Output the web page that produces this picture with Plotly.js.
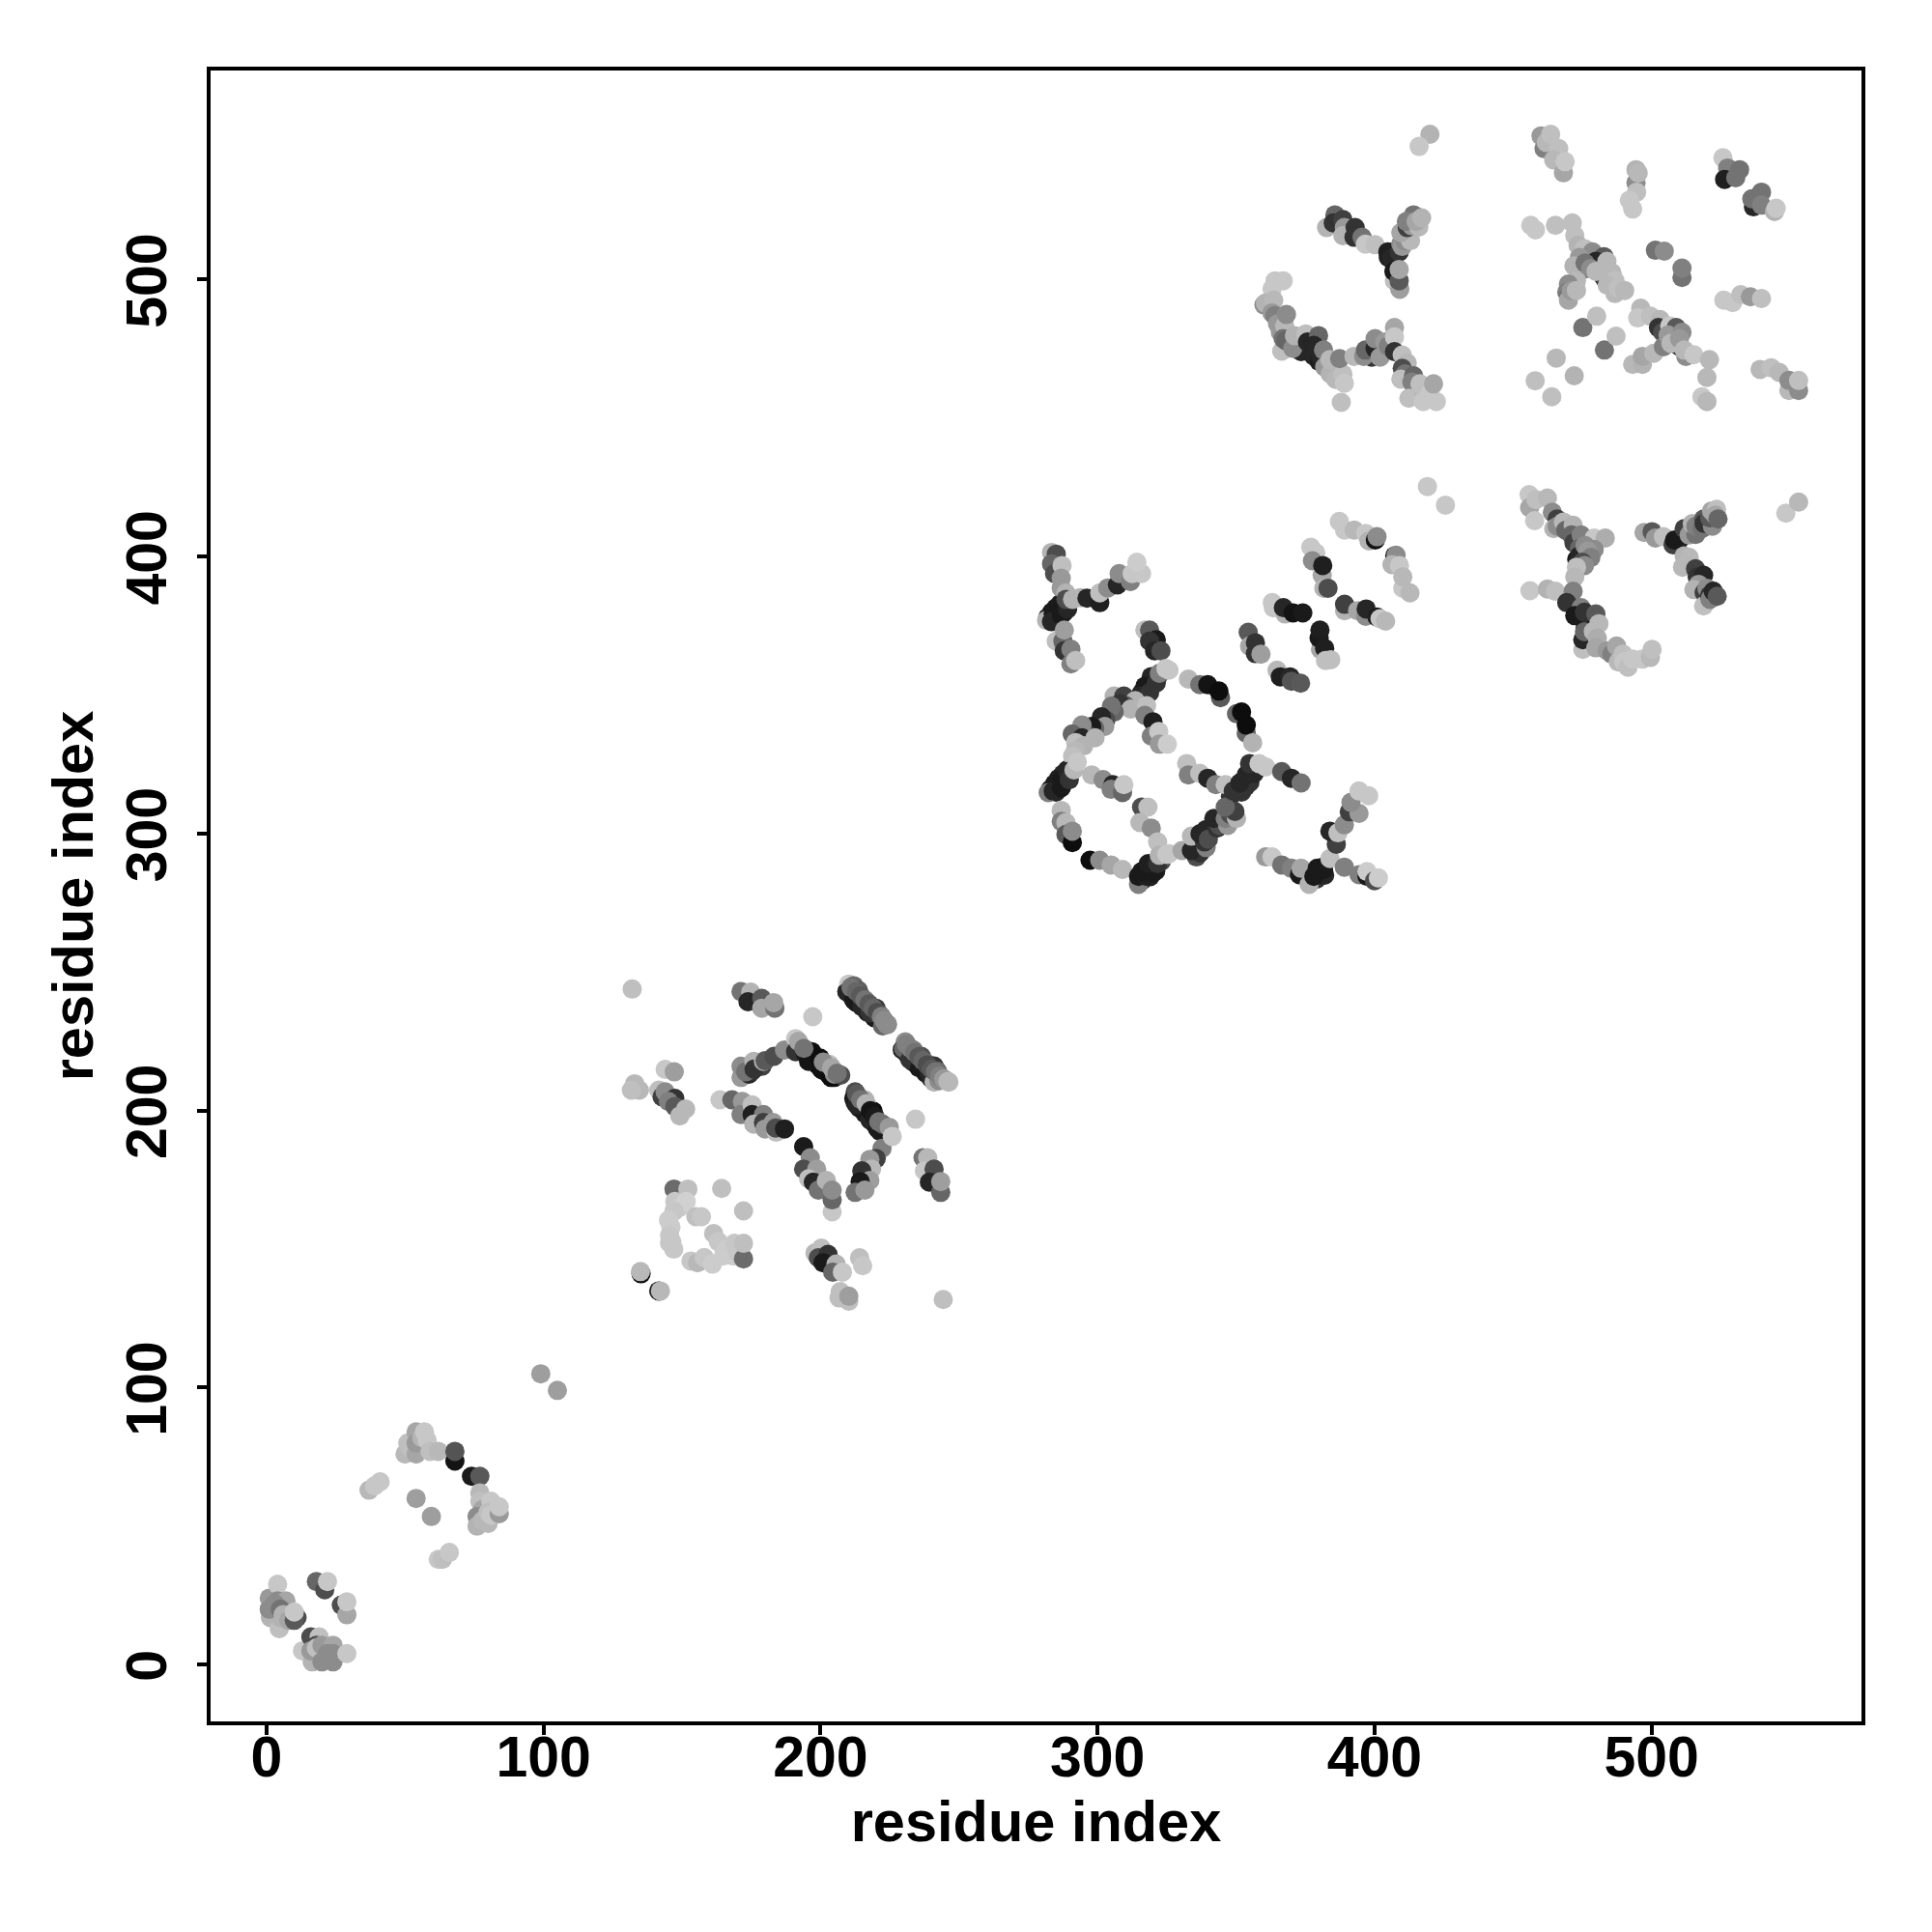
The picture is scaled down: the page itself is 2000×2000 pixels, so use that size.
<!DOCTYPE html>
<html><head><meta charset="utf-8">
<script src="https://cdn.plot.ly/plotly-3.0.1.min.js"></script>
<style>html,body{margin:0;padding:0;background:#fff}</style></head>
<body><div id="chart" style="width:2000px;height:2000px"></div>
<script>
// each row: residue x, residue y, grey shade (0 black .. 1 white)
const denseUnder = [[209.5,243,.1],[211.5,241,.1],[213,239,.1],[215,237.5,.1],[217,235.5,.1],[219.5,233.5,.1],[229.5,222,.15],[231.5,220,.15],[233.5,217.5,.1],[235.5,215.5,.1],[238,213.5,.1],[240,211.5,.15],
[193,222,.08],[195,220,.05],[197,218.5,.05],[199,216.5,.05],[201,214.5,.05],[203,213,.1],[205,212,.1],
[212.5,203,.1],[214,201,.1],[216,199,.1],[218,196.5,.1],[220,194.5,.1],[221.5,192.5,.1],
[314.5,349,.3],[316,348.5,.12],[316,351,.15],[317.5,352.5,.12],[319,354,.12],[320.5,355.5,.15],[322,357,.2],
[283,316,.12],[284.5,318,.1],[286,320,.12],[287.5,321.5,.15],[289,323,.15],[285,315,.15],[287,317,.12],[288.5,319,.15],
[316,283,.15],[317,285,.1],[318.5,286.5,.1],[320,288,.12],[321.5,289.5,.15],[319,284.5,.12],[321,286.5,.12],[323,290,.3],
[348,313.5,.2],[349.5,316,.15],[351,317.5,.12],[352.5,319,.15],[354,320.5,.15],[352,315,.2],[353.5,317,.2],[355,318.5,.2],[356,322.5,.2],
[377,283,.1],[378.5,285,.1],[380,286.5,.1],[381.5,288,.12],[376,285,.1],[379,283.5,.2],[382,285,.15],
[282,378,.12],[283.5,380,.1],[285,381.5,.1],[286.5,383,.12],[284.5,377,.1],[286,379,.1],[288,380,.12],
[405,508,.12],[407,510,.15],[372,475,.2],[373.5,474,.15],[376,474,.15],[378,472.5,.15],[380,470.5,.12],[399,472,.2],[401,474,.12],[403,476,.2],
[473,399,.1],[471,383,.25],[473,380,.15],[476,377,.3],[476,374,.12],[477,371,.15],[510,406,.12],[512,408,.2]];
const domainA = [[1,24,.6],[1.4,17,.7],[1,20,.65],[4,29,.78],[4,23,.55],[4.6,13,.75],[7,23,.65],[8,19,.6],[5,17,.7],[1,20,.55],[3,22,.55],[5,20,.45],[6,18,.7],[8,16,.65],[11,17,.3],[10,16,.35],[10,19,.78],
[18,30,.4],[21,27,.3],[22,30,.78],[27,21.5,.3],[29,18,.65],[29,22.7,.78],
[13,5,.78],[16,10,.3],[19,10,.75],[18,7,.3],[17,3,.6],[16.5,1,.7],[16,5,.6],[18,6,.75],[20,1,.55],[24,1,.55],[20,7,.6],[24,7,.65],[22,4,.55],[24,4,.55],[29,4,.78]];
const domainB = [[50,76,.72],[51,80,.75],[52,78,.75],[54,76,.65],[54,84,.65],[54,80,.6],[56,82,.7],[57,84,.78],[58,81,.78],[59,77,.75],[62,77,.72],[68,73.5,.08],[68,77,.33],[74,68,.1],[77,68,.35],
[77,62,.72],[77,59,.75],[78,56,.65],[81,59,.78],[76,53.5,.55],[76,50,.7],[78,52,.72],[80,51,.72],[80,55,.75],[81,54,.78],[84,54.5,.6],[84,57,.78],
[37,63,.72],[39,64.5,.78],[41,66,.78],[54,60,.62],[59.5,53.5,.62],[62,38,.78],[63.5,38,.75],[66,40.5,.78],[99,105,.62],[105,99,.62]];
const domainC1 = [[132,243.9,.75],[171.3,243,.45],[174.8,242.8,.7],[173.8,239.3,.15],[178.8,240.5,.35],[178.8,237,.65],[183.5,237,.45],[183.1,239,.65],
[210.2,245.7,.78],[212,245.1,.4],[209.6,242.8,.15],[212.5,241.7,.3],[213.7,243.4,.35],[212,239.9,.1],[216.6,239.3,.4],[214.9,237.6,.15],[220,237,.2],[217.8,235.3,.2],[221.3,234.7,.45],[222.4,230.6,.4],[223,232.4,.5],[224.2,231.2,.55],
[230.6,224.8,.55],[230,222.5,.4],[233.5,221.9,.5],[232.3,218.4,.2],[236.4,219.6,.3],[238.1,217.2,.45],[235.8,215.5,.1],[241,216.1,.2],[239.3,213.2,.15],[242.2,214.3,.4],[241,210.3,.7],[242.8,210.8,.55],[246.3,210.3,.72],
[132.9,209.7,.72],[134.6,207.4,.72],[131.7,207.4,.75],[143.9,214.9,.78],[147.2,214,.62],[141.6,207.4,.75],[142.8,205,.25],[143.9,206.8,.55],[147.4,204.4,.2],[145.1,203.3,.5],[147.4,201.5,.35],[149.2,198.1,.72],[151.3,200.6,.72]];
const domainC2 = [[171.3,212,.6],[171.3,216,.55],[174.2,213.2,.15],[175.3,214.3,.2],[173,214,.45],[175.9,217.8,.7],[178.8,216,.25],[176,215,.2],[179.4,217.8,.7],[180,218,.35],[183.2,219.6,.3],[187,221.9,.55],
[191,226,.78],[192.8,223,.6],[191,221.3,.2],[194.5,220.7,.1],[196.8,221.3,.05],[195.7,217.8,.08],[199.8,219,.05],[200.3,214.9,.07],[203.2,216.7,.75],[203.8,212,.05],[205,213.2,.55],[207.3,212.8,.3],
[163.7,203.9,.78],[168,203.9,.4],[171.8,203.3,.6],[171.3,198.6,.5],[175.3,202.1,.75],[175.3,198.6,.12],[179.4,198.6,.5],[175.9,195.1,.7],[179.4,195.7,.25],[182.9,195.7,.6],[180,193.4,.6],[184,192.2,.75],[183.8,193.7,.3],[187,193.4,.12],
[212.5,206.8,.3],[212,204.4,.1],[216,203.9,.7],[213.1,202.1,.15],[219,199.8,.05],[217.8,196.9,.15],[220.7,193.4,.1],[222.4,195.1,.4],
[222.2,186.4,.5],[220.1,182.7,.25],[217.8,182.4,.6],[218.4,178.9,.72],[214.9,178.3,.2],[217.8,174.8,.62],[214.3,174.4,.1],[212.5,170.5,.45],[216,171.3,.6],
[193.9,187,.1],[196.3,183,.55],[193.9,178.9,.3],[198.6,178.9,.62],[195.7,175.4,.75],[197.4,174.2,.15],[199.2,171.3,.45],[202.1,174.8,.7],[204.2,163.5,.78],[204.2,167.8,.4],[204.2,171.3,.55],
[237,183,.45],[238.7,183,.72],[237.5,178.3,.78],[241,178.9,.3],[239.3,174.2,.15],[243.4,170.5,.4],[243.4,174.4,.62],[197.2,233.9,.78],[234.3,196.9,.78],[244.3,131.8,.75]];
const domainC3 = [[147.1,171.7,.42],[152.1,171.7,.75],[164.3,171.9,.75],[172.2,163.8,.75],[147.4,167.2,.78],[149,165,.8],[151.5,167.2,.82],[147.1,163.7,.78],[145.1,160.5,.8],[146,158,.8],[155,161.7,.75],[157,161.7,.78],[145.5,155,.78],[146.3,152.7,.78],[145.5,152.2,.78],[147,150,.78],[161.4,155.6,.75],[163.1,152.7,.78],[153.2,145.7,.78],[155.6,145.1,.72],[158,147,.78],[161,144.6,.8],[164.9,147.5,.8],[166,150,.8],[168.4,147.5,.8],[170,149,.78],[168.9,152.1,.78],[172.2,146.5,.42],[172.2,152.1,.75],
[135.2,141.1,.05],[135,141.9,.72],[141.6,134.9,.1],[142.2,134.9,.72],
[198,148.6,.72],[200.3,150.4,.75],[199.2,146.9,.3],[202.7,148.1,.2],[200.9,145.1,.1],[205.6,144.6,.7],[204.4,141.7,.4],[207.9,141.7,.78],[214.1,146.9,.75],[215.2,144,.78],[207.1,134.7,.75],[206.7,132.4,.75],[210.2,131.2,.75],[210.2,133,.62]];
const domainD1 = [[283.4,401.5,.7],[285.1,400.9,.3],[283.4,397.4,.4],[284.5,393.9,.3],[287.2,396.8,.75],[286.9,392.2,.6],[286.9,388.7,.6],[288.6,386.9,.7],
[281.6,377,.7],[284,379.4,.1],[283.4,376.5,.15],[286.3,381.7,.1],[286.9,378.8,.1],[289.2,381.1,.15],[288.6,384.6,.3],[291,384.6,.7],[293.8,385.2,.7],[296.2,385,.15],[300.8,383.4,.12],[300.8,386.9,.75],[303.7,388.7,.55],[307.2,389.8,.15],[307.8,393.9,.55],[311.9,391,.5],[312.5,393.9,.78],[315.9,393.9,.78],[314.2,398,.8],
[285.1,369.5,.75],[287.5,369.5,.4],[288,373.5,.62],[288,366,.2],[290.4,366.6,.5],[290.4,361.3,.5],[292.1,362.5,.75],
[317.1,373.5,.75],[318.8,373.5,.35],[321.2,370,.1],[318.8,369.5,.2],[320.6,366,.15],[322.9,366,.3],
[319.4,356.7,.15],[317.1,353.2,.1],[321.2,354.4,.2],[315.3,349.7,.15],[318.8,350.9,.2],[322.3,357.9,.5],[324.7,359.6,.78],[325.8,359,.78],
[306,349.7,.7],[309.5,349.7,.25],[313.6,348,.7],[310.1,346.2,.35],[308,347,.2],[312,345,.7],[306,343.9,.4],[305,346,.45],[303,341,.3],[301.4,342.2,.15],[302.6,338.7,.6],[299,338,.4],[297.9,338.7,.1],[296,336,.25],[294.4,339.2,.55],[290.9,336,.4],[294.4,334.6,.15],[299.1,334.6,.7],[292.1,332.9,.75],[295,331.7,.7],[292,330,.72],[291,328,.75],
[317.7,346.2,.75],[317.1,342.7,.5],[320,340.4,.12],[319.4,335.2,.5],[322.1,336.9,.78],[322.3,332.3,.6],[325.2,332.3,.8],
[332.8,355.8,.72],[336.9,353.8,.45],[339.8,353.8,.08],[344.4,349.1,.35],[343.8,351.5,.05],[350.2,343.3,.4],[352,343.9,.05],[353.7,336.3,.4],[353.7,339.2,.05],[356,332.8,.7]];
const domainD2 = [[282.2,314.8,.5],[284,315.4,.15],[286.9,316.6,.1],[286.9,319.5,.1],[289.2,322.4,.15],[289.8,319.5,.2],[291.5,323,.72],[292.7,325.9,.78],
[297.9,321.2,.72],[302,319.5,.55],[305.5,317.7,.15],[304.9,316,.5],[309,314.8,.4],[309.5,317.7,.78],
[286.9,308.4,.72],[286.9,304.4,.5],[288.6,304,.72],[288.6,299.7,.35],[290.9,296.8,.05],[290.9,300.9,.55],[297.3,290.4,.05],[300.8,290.4,.55],[304.9,288.7,.65],[309,287.1,.72],
[315.9,309.6,.3],[318.2,309.6,.75],[315.3,304,.72],[319.4,302,.55],[321.7,297,.75],
[314.8,281.7,.5],[314.8,284.6,.1],[317.7,284.6,.12],[315.9,286.3,.1],[320,286,.1],[318.3,289.2,.12],[321.7,289.2,.2],[322.3,292.2,.7],[325.8,292.8,.78],[325,292.5,.78],
[335.7,291.6,.3],[337,293,.2],[330.5,293.9,.65],[333.9,293.9,.15],[339.2,295,.5],[333.9,299.1,.72],[339.2,301.5,.15],[338.6,297,.2],[337,300,.15],[340,298,.3],[343.2,302,.2],[344,303,.3],[342,305.5,.15],[347,303,.6],[346.1,305.5,.5],[348,307,.3],[350.2,305.5,.7],[349.6,308,.25],[346.1,309.6,.4],
[332.2,325.3,.75],[332.8,321.2,.5],[336.9,321.8,.75],[339.8,320,.15],[342.7,317.7,.5],[346.1,317.7,.75],[349,315.4,.2],[351.4,318.3,.15],[353.7,321.2,.15],[356.6,321.8,.15],[354.9,325.3,.2],[358.3,325.3,.78],[360.7,324.1,.78],[366.5,322.4,.35],[370,320,.15],[373.5,318.3,.45],
[360.7,291.6,.6],[363,291.6,.78],[366.5,288.7,.45],[370,287.5,.5],[372.9,285.2,.1],[373.5,287.5,.65],[376.4,281.7,.7],[378.1,284.6,.1],[379.3,287.5,.1],[381.6,287,.1],
[383.9,291,.75],[386.2,296.2,.25],[383.9,300.9,.15],[386.8,300.3,.75],[389.1,303.2,.55],[390.9,307.9,.25],[394.4,307.3,.6],[391.5,311.3,.55],[394.4,315.4,.78],[397.9,313.7,.78],
[389.1,287.9,.5],[394.4,285.2,.5],[397.3,284.6,.1],[397.3,286.3,.8],[400,283,.3],[401.4,284,.8]];
const domainE = [[419.1,425.3,.78],[425.6,418.6,.78],[387.3,412.7,.78],[389.2,409.6,.78],[392.7,409.6,.72],[396.8,408.4,.78],[398,405.7,.7],[400.3,406,.08],[400.9,407.2,.55],
[407.3,400.3,.15],[407.8,400.5,.55],[406.3,397.1,.7],[409,396.8,.78],[410.2,388.6,.78],[410.2,392.7,.72],[412.8,386.9,.72],
[377,403.4,.78],[378.8,401.4,.78],[377.6,398.5,.55],[381.1,393.3,.65],[381.3,396.8,.12],[381.7,388.6,.7],[383.2,388.6,.3],
[363.1,383.4,.78],[363.5,381.5,.78],[367.7,379.3,.7],[367.1,381.6,.15],[370.6,379.7,.08],[374.1,379.7,.1],
[389.2,380.5,.7],[389.2,382.8,.25],[393.9,380.5,.65],[396.8,378.5,.55],[397,381.1,.15],[400.9,378.2,.12],[402,377.6,.78],[404,376.7,.72],
[380.5,366.5,.65],[380,370.6,.1],[380.3,373.5,.12],[382,366.9,.12],[382.3,362.5,.75],[384.2,362.8,.75],
[354.4,372.7,.35],[354.9,367.7,.65],[357,368.9,.2],[357,365,.2],[359,364.8,.62],
[364.8,359,.72],[366,356.6,.12],[369.5,356.6,.15],[370,355,.33],[373.3,354.3,.35]];
const domainF1 = [[420,552.5,.7],[416.1,548.1,.78],[382.7,518.8,.7],[385.7,523.4,.4],[385.1,520.5,.2],[388.6,521.7,.25],[389.1,518.8,.6],[388.6,515.9,.7],[393,518.8,.2],[392.6,515.3,.2],[395.5,515.3,.45],[396.7,512.8,.78],[400.2,512.6,.75],
[404.8,510,.12],[406,507.7,.15],[408.9,510,.2],[409.5,513,.55],[410,512,.6],[411,514,.55],[412,516,.6],[413,514.1,.72],[409.5,517,.65],[411.8,518.8,.25],[414.1,523.4,.45],[413.5,519.4,.6],[411.5,521,.5],[416,519,.72],[415,521,.65],[417,522.3,.7],
[407.2,499.6,.75],[409.1,496.5,.62],[407,503,.1],[408.9,499.6,.35],[408.9,503.7,.65],
[364.1,499.6,.78],[367,499.6,.78],[363,496.7,.78],[360.1,490.9,.55],[360.6,491.5,.7],[363.6,492.6,.72],[363,488,.6],[364,487,.5],[365,484,.6],[366,481,.6],[367.6,483.3,.72],[368.2,487.4,.55],[366.5,474.2,.75],[367,478.7,.45],[368,478,.4],[370.5,475.2,.55],[371.1,479.8,.7],[375.2,480.4,.75],[375.8,477.5,.15],[379.8,479.8,.4],[378.1,476.3,.15],[380.4,472.3,.15],[381.6,474.6,.5],[388,455.7,.75],[382,468.5,.6],[384,466,.7],[386,464,.72],[388.6,465.9,.75],[389.1,462.6,.78],[383.9,471.1,.72],[387.4,471.5,.5],
[392.6,472.3,.72],[396.1,472.3,.55],[396.7,474.6,.4],[400.2,475.2,.15],[400.2,478.7,.55],[402,472,.6],[403.7,477.5,.6],[405,476,.5],[407.2,482.7,.65],[407.2,479.3,.78],
[407.2,474,.2],[410,472.8,.75],[411.8,469.9,.72],[410,468,.3],[411,466,.45],[412,464,.2],[409.5,464.1,.75],[414.1,465.3,.4],[413.5,463,.5],[415,461,.5],[412.4,457.2,.75],[418,459,.7],[417.6,456,.78],[416.4,462.4,.75],[419.9,458.9,.78],[422.3,456,.78],[421.3,462.4,.65]];
const domainF2 = [[460.1,551.9,.6],[461.2,547.3,.5],[462,549.5,.72],[463.6,552.5,.75],[466.5,547.3,.75],[464.7,543.2,.72],[468.2,538.6,.65],[468.8,542.6,.78],
[494.4,535,.55],[494.6,531.6,.75],[492,528.7,.78],[493.2,525.5,.78],[494.4,539.7,.7],[495.2,538.5,.72],
[456.4,519.6,.78],[458.1,518,.78],[465.3,519.6,.75],[471.4,520.5,.75],[472.3,515.9,.75],[473.5,512.4,.7],
[475.8,511.2,.75],[478.7,510,.55],[474,508,.6],[482.8,508.3,.35],[479.9,506.6,.15],[483.9,506.6,.72],[475.4,503.7,.5],[472,505,.7],[476,506,.45],[478,504,.55],[472.9,499.6,.72],[482.8,500.8,.2],[480,503,.72],[485.7,502.5,.72],[486.8,499.6,.75],[484,498,.72],[486.8,495,.72],[488,497,.75],[490.3,496.1,.72],[470,498.4,.55],[469.4,495.5,.5],[470,494,.45],[470,492.6,.65],[471,496,.6],[472.9,496.1,.72],
[501.4,510.6,.45],[504.6,510.3,.55],[511,500.8,.45],[511,504.2,.5],
[525.8,544,.78],[527.5,540.3,.5],[526.4,536.2,.12],[531.8,539.7,.45],[530.4,536.8,.45],[536.8,526.3,.15],[536.2,529.2,.45],[539.7,531.6,.45],[539.7,526.9,.5],[544.4,524.6,.7],[545,525.8,.78],
[526.1,492.6,.78],[529.3,491.7,.78],[532.2,494.6,.75],[535.7,493.8,.6],[539.7,493.2,.75],
[475.2,482.7,.45],[480.2,486.8,.75],[483,474.6,.45],[487.2,479.6,.75],[465.6,471.7,.72],[472.1,465.3,.7],[458,463.5,.75],[464,457.7,.75],
[493.2,469.4,.72],[496.7,469.4,.7],[496.7,472.3,.65],[500.8,473.4,.72],[496.1,489.7,.72],[495,486.2,.78],[499.6,486.8,.75],[503.1,485.6,.72],[502.5,482.7,.2],[504,481,.3],[506.6,483.3,.78],[504.3,475.8,.5],[508.9,482.7,.35],[508,479,.2],[506,480,.6],[510,476,.15],[507,477,.72],[511,481,.55],[510.1,478.7,.6],[512.4,472.3,.55],[511.8,474.6,.72],[515.3,472.9,.78],[520.9,471.1,.72],[520,464.7,.72],[518.2,457.7,.78],[520,456,.72],
[539.2,467.6,.72],[543.2,468.2,.75],[546.1,466.5,.72],[549.6,460,.72],[549.6,463.6,.55],[553.1,460,.55],[553.1,463.6,.75]];
const domainG = [[455.8,422.4,.78],[456,417.7,.65],[457.8,413,.78],[458.3,420.6,.75],[462.4,421.2,.72],[464.2,416,.55],[465.9,413.6,.25],[464.7,410.1,.7],[466,411,.55],[468.2,412.5,.72],[469,409.5,.4],[471.7,411.3,.7],[471.1,407.8,.4],[472,405,.25],[474.6,407.8,.5],[474,403,.4],[479.3,406.7,.78],[483.3,406.7,.68],[474,400.3,.15],[476,404,.55],[479.3,402.6,.55],[477,402,.6],[478.1,399.7,.5],[475,398,.3],[475.8,396.8,.55],[472.9,396.2,.75],[472.3,392.7,.72],
[456.1,387.7,.78],[462.4,388.3,.7],[465.3,387.5,.75],[471.7,387.5,.5],[469.4,383.4,.2],[474.6,381.6,.5],[472.3,378.7,.1],[475.8,379.9,.2],[479.9,379.3,.35],[481,375.8,.72],[475.2,366.5,.75],[475.2,370,.15],[475.8,372.9,.4],[479,373,.72],[480.4,370.6,.68],[479.9,367.1,.65],[484,366,.6],[485.7,364.8,.5],[487.4,367.7,.65],[488,362,.72],[489.7,364.8,.75],[490,362,.78],[491.5,360.1,.75],[493.2,363,.78],[496.7,363,.78],[499.6,363.6,.72],[500.2,366.5,.75],
[497.3,408.7,.65],[500.2,409,.35],[501.4,406.7,.6],[504.3,407.2,.75],[507.8,404.3,.25],[508.3,406,.1],[511.8,410.1,.25],[514,409,.3],[513.6,407.8,.6],[516,408,.45],[514.7,411.9,.7],[516,411,.5],[518.2,410.1,.45],[518.8,413.6,.35],[519,412,.2],[522,411,.55],[521,414,.35],[521.7,416.5,.65],[523.5,417.1,.75],[523,415,.65],[524,413.6,.4],
[511.8,400.3,.7],[513.6,399.7,.72],[511.2,396.2,.72],[515.9,395.6,.25],[516.5,392.7,.2],[518.8,393.3,.15],[517,390,.6],[515.3,388.1,.7],[519,387,.25],[518.8,382.2,.75],[520,388.6,.55],[521,386,.2],[521.1,384.6,.5],[522.3,387.5,.15],[523.7,385.7,.35],
[548.5,415.7,.78],[553.1,419.7,.72]];
const denseOver = [[211,244.5,.45],[213,243,.4],[214.5,241.5,.35],[216,240,.45],[217.5,238.5,.35],[219,237,.4],[220.5,235.5,.3],[222,234,.5],[223,232.5,.55],[224,231,.55],
[231,224,.5],[232.5,222.5,.5],[234,221,.45],[235.5,219.5,.35],[237,218,.4],[238.5,216.5,.3],[240,215,.35],[241.5,214,.45],[243,212.5,.5],[244.5,211.5,.6],[246,210.5,.72],
[192,225,.65],[194,222.5,.45],[201,217.5,.55],[204,215.5,.65],[206,213.5,.45],
[213,206,.35],[214.5,204,.45],[216.5,202.5,.7],[218,200,.08],[219.5,198,.1],[221,196,.45],[224.8,194,.6],[225.9,190.7,.78]];
const tickValues = [0,100,200,300,400,500];
const tickLabels = ["0","100","200","300","400","500"];
const axisLabel = "residue index";

const rows = [...denseUnder,...domainA,...domainB,...domainC3,...domainC1,...domainC2,...domainD1,...domainD2,...domainE,...domainF1,...domainF2,...domainG,...denseOver];
const shade = s => { const v = Math.round(s*255); return `rgb(${v},${v},${v})`; };
const tickFont = {family:'"Liberation Sans", Arial, sans-serif', size:59, color:'#000', weight:700};
const titleFont = {family:'"Liberation Sans", Arial, sans-serif', size:59.5, color:'#000', weight:700};
const axis = {tickmode:'array', tickvals:tickValues, ticktext:tickLabels, ticks:'outside', ticklen:10, tickwidth:3.5, tickcolor:'#000',
  showline:true, mirror:true, linecolor:'#000', linewidth:3.5, showgrid:false, zeroline:false, tickfont:tickFont};
Plotly.newPlot('chart',[{type:'scatter',mode:'markers',x:rows.map(r=>r[0]),y:rows.map(r=>r[1]),
  marker:{size:20,color:rows.map(r=>shade(r[2])),line:{width:0}},hoverinfo:'x+y'}],
 {width:2000,height:2000,showlegend:false,paper_bgcolor:'#fff',plot_bgcolor:'#fff',
  margin:{l:218,r:73,t:73,b:218},
  xaxis:{...axis,range:[-20.2,575.8],ticklabelstandoff:-28,title:{text:axisLabel,font:titleFont,standoff:10}},
  yaxis:{...axis,range:[-20.5,575.5],tickangle:-90,ticklabelstandoff:9,ticklabelshift:10,title:{text:axisLabel,font:titleFont,standoff:4}}
 },{displayModeBar:false});
</script></body></html>
